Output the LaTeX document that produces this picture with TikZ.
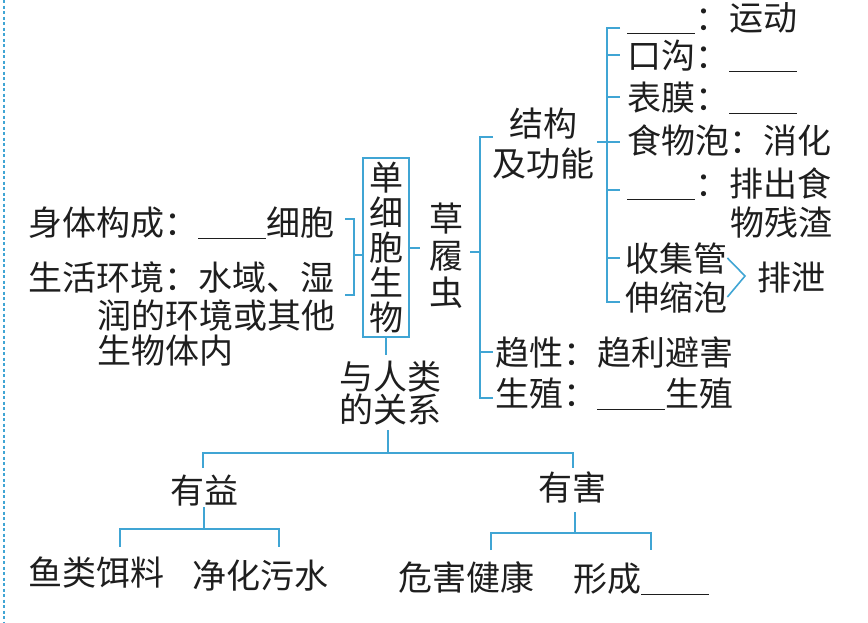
\documentclass[tikz,border=0pt]{standalone}
\usepackage{fontspec}
\setmainfont{Noto Sans CJK SC}
\definecolor{lineblue}{RGB}{64,165,212}
\definecolor{ink}{RGB}{30,30,30}
\newcommand{\fillblank}{\rule[-4pt]{68pt}{1.4pt}}
\begin{document}
\begin{tikzpicture}[x=1pt,y=-1pt,
  txt/.style={font=\fontsize{34}{40}\selectfont, text=ink, inner sep=0pt, text height=30pt, text depth=4pt},
  vtxt/.style={text=ink, inner sep=0pt, align=center},
  link/.style={draw=lineblue, line width=1.6pt},
]
\useasboundingbox (0,0) rectangle (868,622);
\draw[lineblue, line width=1.8pt, dash pattern=on 3pt off 2.5pt] (4,0) -- (4,622);

% left side
\node[txt,anchor=west] (body) at (28,222) {身体构成：\fillblank 细胞};
\node[txt,anchor=west] (env1) at (28,277) {生活环境：水域、湿};
\node[txt,anchor=west] (env2) at (97,315) {润的环境或其他};
\node[txt,anchor=west] (env3) at (97,350) {生物体内};
\draw[link] (345,219) -- (354,219) -- (354,295) -- (345,295);

% central box
\node[vtxt, draw=lineblue, line width=1.4pt, minimum width=46pt, minimum height=179pt,
      font=\fontsize{34}{35}\selectfont] (dan) at (386,247.5) {单\\细\\胞\\生\\物};
\draw[link] (354,255) -- (dan.west |- 0,255);

% paramecium
\node[vtxt, font=\fontsize{34}{37}\selectfont] (cao) at (446,256) {草\\履\\虫};
\draw[link] (dan.east |- 0,248) -- (420,248);
\draw[link] (470,252) -- (480,252);
\draw[link] (493,137) -- (480,137) -- (480,398) -- (493,398);
\draw[link] (480,352) -- (493,352);

% structure and function
\node[vtxt, font=\fontsize{34}{40}\selectfont] (jg) at (543,144) {结构\\及功能};
\draw[link] (597,142) -- (620,142);
\draw[link] (620,28) -- (607,28) -- (607,302) -- (620,302);
\foreach \yy in {55,97,190,258} \draw[link] (607,\yy) -- (620,\yy);

\node[txt,anchor=west] (r1) at (627,17) {\fillblank：运动};
\node[txt,anchor=west] (r2) at (627,55) {口沟：\fillblank};
\node[txt,anchor=west] (r3) at (627,97) {表膜：\fillblank};
\node[txt,anchor=west] (r4) at (627,140) {食物泡：消化};
\node[txt,anchor=west] (r5) at (627,183) {\fillblank：排出食};
\node[txt,anchor=west] (r5b) at (730,222) {物残渣};
\node[txt,anchor=west] (r6) at (625,258) {收集管};
\node[txt,anchor=west] (r7) at (625,297) {伸缩泡};
\node[txt,anchor=west] (px) at (757,277) {排泄};
\coordinate (apex) at (745,276);
\draw[link] (r6.east) -- (apex) -- (r7.east);

\node[txt,anchor=west] (qx) at (495,352) {趋性：趋利避害};
\node[txt,anchor=west] (sz) at (495,393) {生殖：\fillblank 生殖};

% relation with humans
\node[vtxt, font=\fontsize{34}{33}\selectfont] (rel) at (390,393) {与人类\\的关系};
\draw[link] (dan.south) -- (386,355);
\draw[link] (388,430) -- (388,453);
\draw[link] (203,468) -- (203,453) -- (573,453) -- (573,468);

\node[txt] (yy) at (204,490) {有益};
\node[txt] (yh) at (572,487) {有害};
\draw[link] (204,507) -- (204,529);
\draw[link] (120,547) -- (120,529) -- (279,529) -- (279,547);
\draw[link] (575,512) -- (575,533);
\draw[link] (491,550) -- (491,533) -- (651,533) -- (651,550);

\node[txt] (yl) at (96,572) {鱼类饵料};
\node[txt] (jh) at (260,575) {净化污水};
\node[txt] (wh) at (466,577) {危害健康};
\node[txt,anchor=west] (xc) at (573,578) {形成\fillblank};
\end{tikzpicture}
\end{document}
